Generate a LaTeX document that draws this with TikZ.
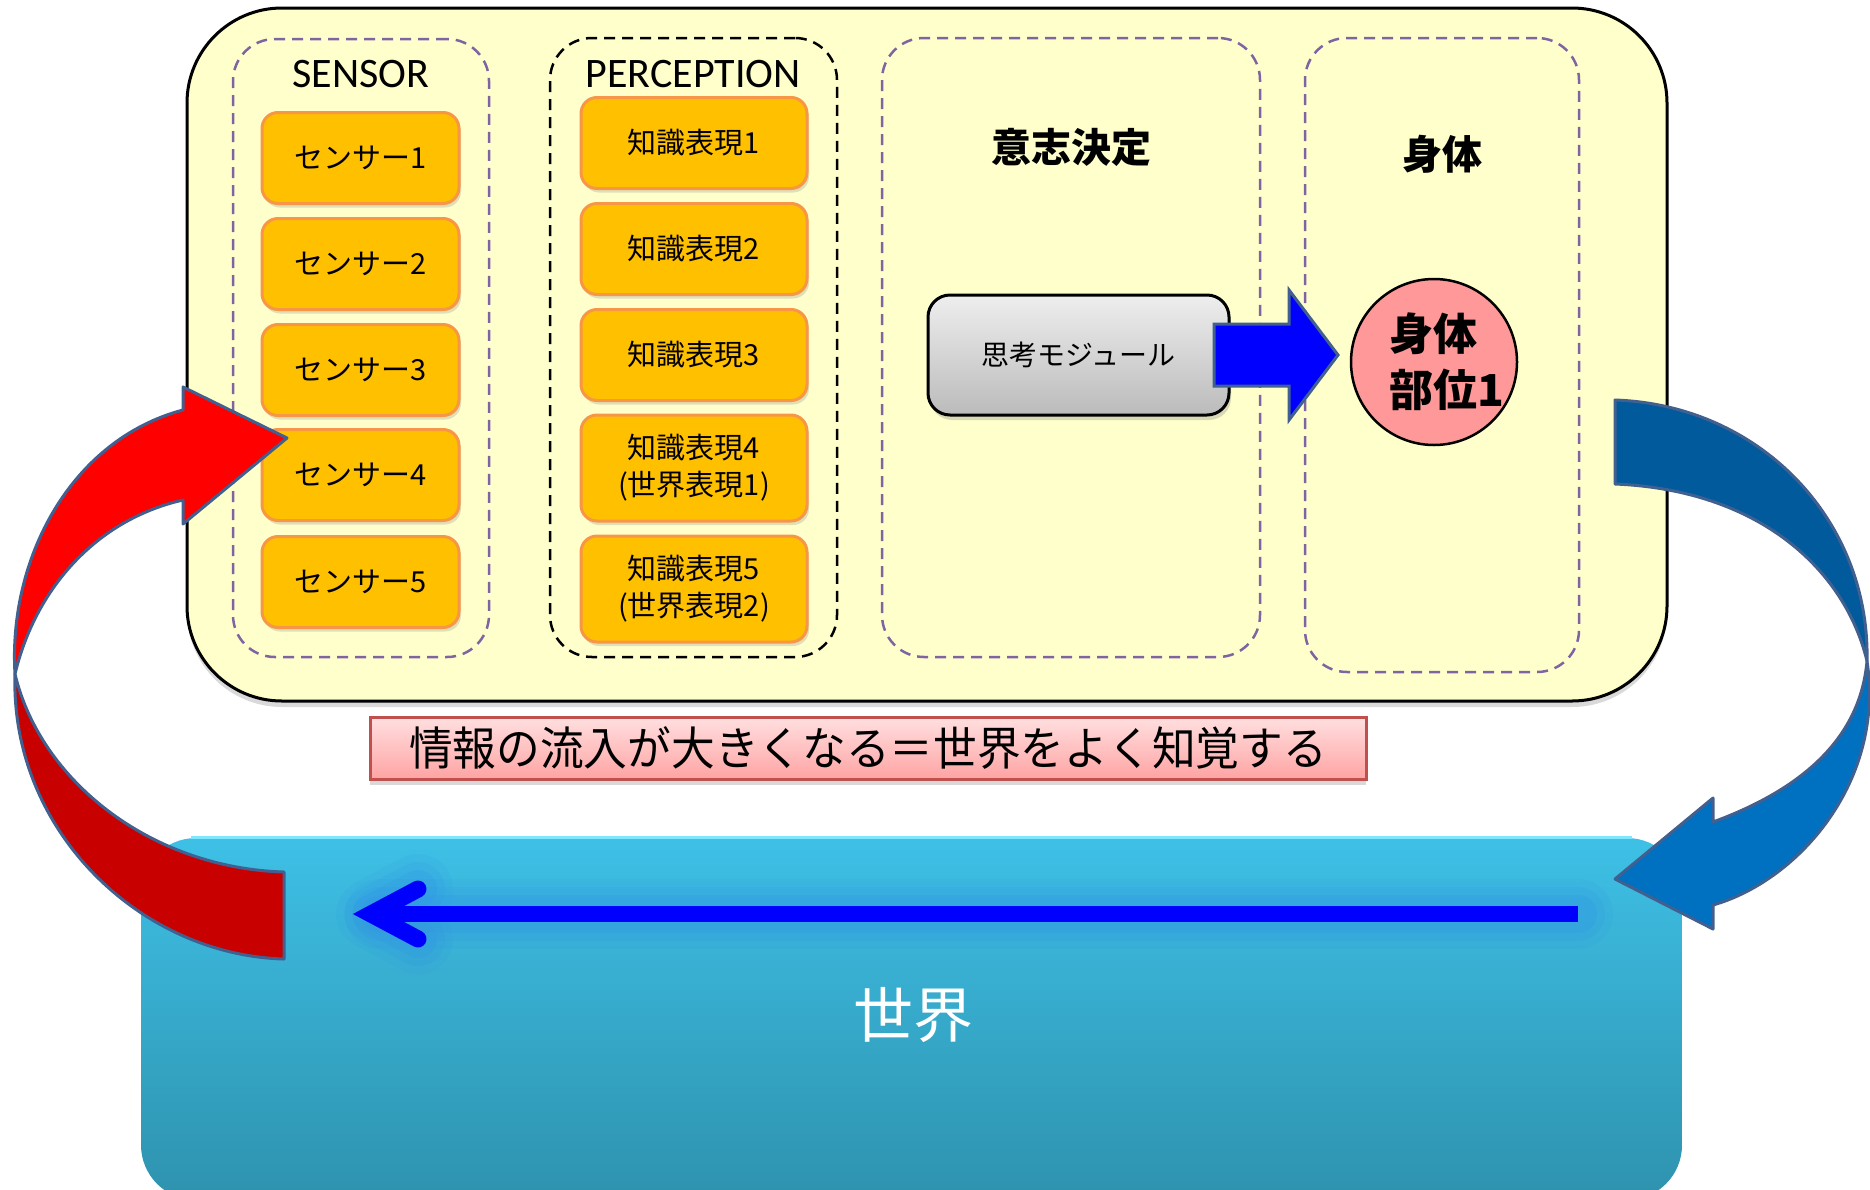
\documentclass[tikz,border=0pt]{standalone}
\usepackage{fontspec}
\setmainfont{Noto Sans CJK JP}
\newfontfamily\latf{Carlito}
\usetikzlibrary{shadows}
\definecolor{ybg}{HTML}{FFFFCC}
\definecolor{lanepur}{HTML}{8064A2}
\definecolor{sensfill}{HTML}{FFC000}
\definecolor{sensdraw}{HTML}{F79646}
\definecolor{arrowbord}{HTML}{41608F}
\definecolor{pinkc}{HTML}{FF9999}
\definecolor{capdraw}{HTML}{C0504D}
\definecolor{captop}{HTML}{FFE0E0}
\definecolor{capbot}{HTML}{FFA3A3}
\definecolor{worldtop}{HTML}{3EC0E6}
\definecolor{worldbot}{HTML}{2E92AE}
\definecolor{worldedge}{HTML}{7FE6FF}
\definecolor{redup}{HTML}{FF0000}
\definecolor{reddown}{HTML}{C80000}
\definecolor{blueup}{HTML}{005A9C}
\definecolor{bluedown}{HTML}{0070C0}
\definecolor{modtop}{HTML}{EEEEEE}
\definecolor{modbot}{HTML}{BBBBBB}
\definecolor{glowc}{HTML}{2F8FE8}
\tikzset{
  outerbox/.style={draw=black, line width=3, fill=ybg, rounded corners=95,
    drop shadow={opacity=0.3, shadow xshift=0pt, shadow yshift=-6pt}},
  lanepurple/.style={draw=lanepur, line width=2.5, dash pattern=on 11pt off 7pt, rounded corners=42},
  laneblack/.style={draw=black, line width=2.5, dash pattern=on 11pt off 7pt, rounded corners=42},
  lattitle/.style={font=\latf\fontsize{42}{42}\selectfont, inner sep=0},
  jptitle/.style={font=\bfseries\fontsize{40}{40}\selectfont, inner sep=0},
  sensbox/.style={draw=sensdraw, fill=sensfill, line width=3, rounded corners=16,
    minimum width=197, minimum height=91, inner sep=0,
    font=\fontsize{29}{36}\selectfont,
    drop shadow={opacity=0.25, shadow xshift=2pt, shadow yshift=-4pt}},
  kbox/.style={sensbox, minimum width=226, align=center, font=\fontsize{29}{37}\selectfont},
  modbox/.style={draw=black, line width=3, top color=modtop, bottom color=modbot,
    rounded corners=22, minimum width=301, minimum height=120, inner sep=0,
    font=\fontsize{28}{28}\selectfont,
    drop shadow={opacity=0.3, shadow xshift=2pt, shadow yshift=-5pt}},
  capbox/.style={draw=capdraw, line width=3, top color=captop, bottom color=capbot,
    minimum width=996, minimum height=62, inner sep=0,
    font=\fontsize{46}{46}\selectfont,
    drop shadow={opacity=0.3, shadow xshift=0pt, shadow yshift=-6pt}},
  worldbox/.style={top color=worldtop, bottom color=worldbot, rounded corners=55,
    minimum width=1541, minimum height=362},
  ribbon/.style={draw=arrowbord, line width=3, line join=round},
  glow/.style={glowc, line cap=round, line join=round}
}
\begin{document}
\begin{tikzpicture}[x=1pt,y=-1pt]
\useasboundingbox (0,0) rectangle (1870,1189);
\begin{scope}
\clip (0,0) rectangle (1870,1189);

% outer frame
\node[outerbox, minimum width=1480, minimum height=693] (outer) at (927,354.5) {};

% lanes
\node[lanepurple, minimum width=256, minimum height=618] (senslane) at (361,348) {};
\node[laneblack, minimum width=287, minimum height=619] (perclane) at (693.5,347.5) {};
\node[lanepurple, minimum width=378, minimum height=619] (declane) at (1071,347.5) {};
\node[lanepurple, minimum width=274, minimum height=634] (bodylane) at (1442,355) {};

% titles
\node[lattitle] (senstitle) at (361,74) {SENSOR};
\node[lattitle] (perctitle) at (693,74) {PERCEPTION};
\node[jptitle] (dectitle) at (1071,147) {意志決定};
\node[jptitle] (bodytitle) at (1442,154) {身体};

% sensors
\node[sensbox] (s1) at (360.5,158) {センサー1};
\node[sensbox] (s2) at (360.5,264) {センサー2};
\node[sensbox] (s3) at (360.5,370) {センサー3};
\node[sensbox] (s4) at (360.5,475) {センサー4};
\node[sensbox] (s5) at (360.5,582) {センサー5};

% knowledge
\node[kbox] (k1) at (694,143) {知識表現1};
\node[kbox] (k2) at (694,249) {知識表現2};
\node[kbox] (k3) at (694,355) {知識表現3};
\node[kbox, minimum height=106] (k4) at (694,468) {知識表現4\\(世界表現1)};
\node[kbox, minimum height=106] (k5) at (694,589) {知識表現5\\(世界表現2)};

% thinking module
\node[modbox] (mod) at (1078.5,355) {思考モジュール};

% body part
\node[circle, draw=black, line width=2.5, fill=pinkc, minimum size=166, inner sep=0] (part) at (1434,362) {};
\node[anchor=west, align=left, inner sep=0, font=\bfseries\fontsize{44}{56}\selectfont] (parttext) at (1389,362) {身体\\部位1};

% block arrow from module to body part
\fill[blue, draw=arrowbord, line width=3, line join=miter]
  (1214,324) -- (1289,324) -- (1289,290) -- (1338,355) -- (1289,420) -- (1289,386) -- (1214,386) -- cycle;

% caption
\node[capbox] (cap) at (868,748) {\scalebox{0.95}[1]{情報の流入が大きくなる＝世界をよく知覚する}};

% world
\node[worldbox] (world) at (911.5,1019) {};
\draw[worldedge, line width=3] ([xshift=50]world.north west) -- ([xshift=-50]world.north east);
\node[text=white, inner sep=0, font=\fontsize{60}{60}\selectfont] (worldtext) at (913,1015) {世界};

% arrow in the world with glow
\coordinate (wa1) at (1578,914);
\coordinate (wa2) at (380,914);
\coordinate (wtip) at (371,914);
\coordinate (wup) at (418,889);
\coordinate (wdn) at (418,939);
\foreach \w/\o in {70/0.10, 54/0.14, 38/0.18}{
  \draw[glow, line width=\w, opacity=\o] (wa1) -- (wa2);
  \draw[glow, line width=\w, opacity=\o] (wup) -- (wtip) -- (wdn);
}
\draw[blue, line width=16] (wa1) -- (wa2);
\draw[blue, line width=17, line cap=round, line join=miter] (wup) -- (wtip) -- (wdn);

% red curved arrow (world -> sensors), upper bright part with head
\filldraw[ribbon, fill=redup]
  (15,674) .. controls (8,560) and (70,440) .. (183,410)
  -- (183,387) -- (287,438) -- (183,524) -- (183,500)
  .. controls (95,520) and (35,590) .. (15,674) -- cycle;
% lower dark part with tail
\filldraw[ribbon, fill=reddown]
  (15,674) .. controls (10,830) and (140,955) .. (284,959)
  -- (284,872)
  .. controls (150,868) and (40,780) .. (15,674) -- cycle;

% blue curved arrow (body -> world), upper dark part with tail
\filldraw[ribbon, fill=blueup]
  (1615,400) .. controls (1760,405) and (1870,520) .. (1867,661)
  .. controls (1845,570) and (1760,490) .. (1615,484) -- cycle;
% lower lighter part with head
\filldraw[ribbon, fill=bluedown]
  (1867,661) .. controls (1885,780) and (1800,880) .. (1713,905)
  -- (1713,929) -- (1615,879) -- (1713,798) -- (1713,822)
  .. controls (1800,790) and (1860,740) .. (1867,661) -- cycle;

\end{scope}
\end{tikzpicture}
\end{document}
